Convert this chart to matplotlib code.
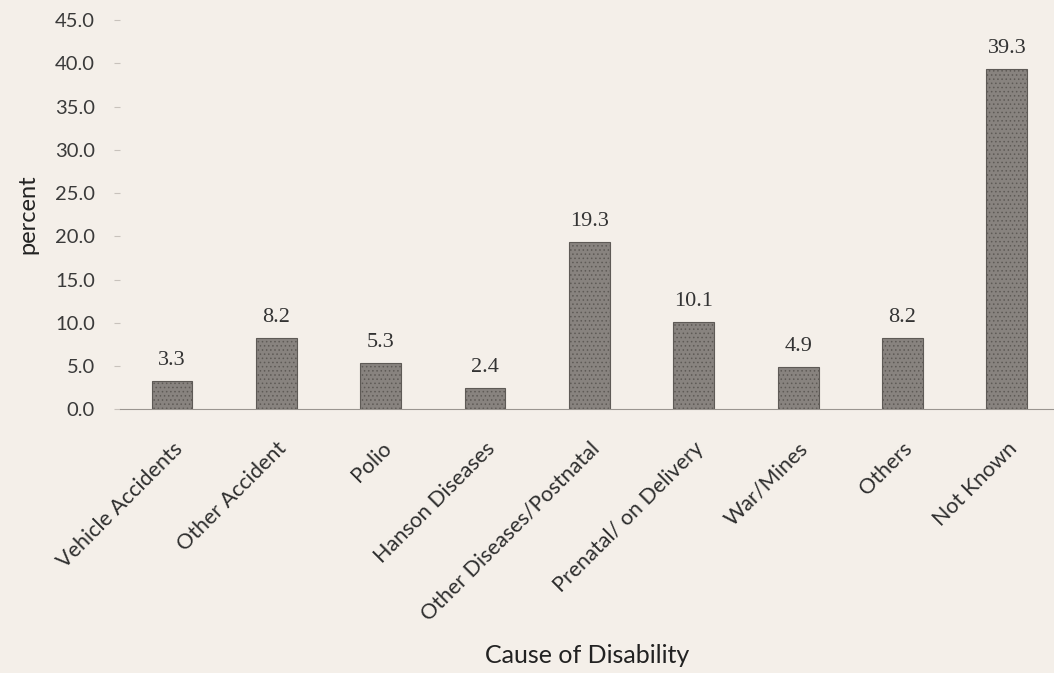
import numpy as np
import matplotlib.pyplot as plt

# Data
causes = ["Vehicle Accidents", "Other Accident", "Polio", "Hanson Diseases",
          "Other Diseases/Postnatal", "Prenatal/ on Delivery", "War/Mines",
          "Others", "Not Known"]
percent = [3.3, 8.2, 5.3, 2.4, 19.3, 10.1, 4.9, 8.2, 39.3]
yticks = np.arange(0, 50, 5)

paper = "#f4efe9"
bar_col = "#88837f"

plt.rcParams["hatch.color"] = "#65605c"
plt.rcParams["hatch.linewidth"] = 0.6

fig = plt.figure(figsize=(10.54, 6.73), dpi=100, facecolor=paper)
ax = fig.add_axes([0.1138, 0.392, 0.886, 0.578], facecolor=paper)

x = np.arange(len(causes))
ax.bar(x, percent, width=0.39, color=bar_col, edgecolor="#5e5a56",
       linewidth=0.8, hatch="....")

# value labels above the bars
for xi, v in zip(x, percent):
    ax.annotate(f"{v:.1f}", (xi, v), xytext=(0, 8), textcoords="offset points",
                ha="center", va="bottom", fontsize=16,
                family="Liberation Serif", color="#333333")

ax.set_xlim(-0.5, 8.45)
ax.set_ylim(0, 45)
ax.set_yticks(yticks)
ax.set_yticklabels([f"{t:.1f}" for t in yticks], fontsize=14.5,
                   family="Lato", color="#3a3a3a")
ax.set_xticks(x)
ax.set_xticklabels(causes, rotation=45, ha="right", rotation_mode="anchor",
                   fontsize=15.5, family="Lato", color="#2e2e2e")

for s in ["top", "right", "left"]:
    ax.spines[s].set_visible(False)
ax.spines["bottom"].set_color("#9a9590")
ax.tick_params(axis="x", length=0, pad=21)
ax.tick_params(axis="y", length=4, color="#c8c2bc", pad=14)

ax.set_xlabel("Cause of Disability", fontsize=18, family="Lato",
              color="#222222", labelpad=14)
ax.set_ylabel("percent", fontsize=17, family="Lato", color="#222222",
              labelpad=12)

plt.savefig("out.png", dpi=100, facecolor=paper)
